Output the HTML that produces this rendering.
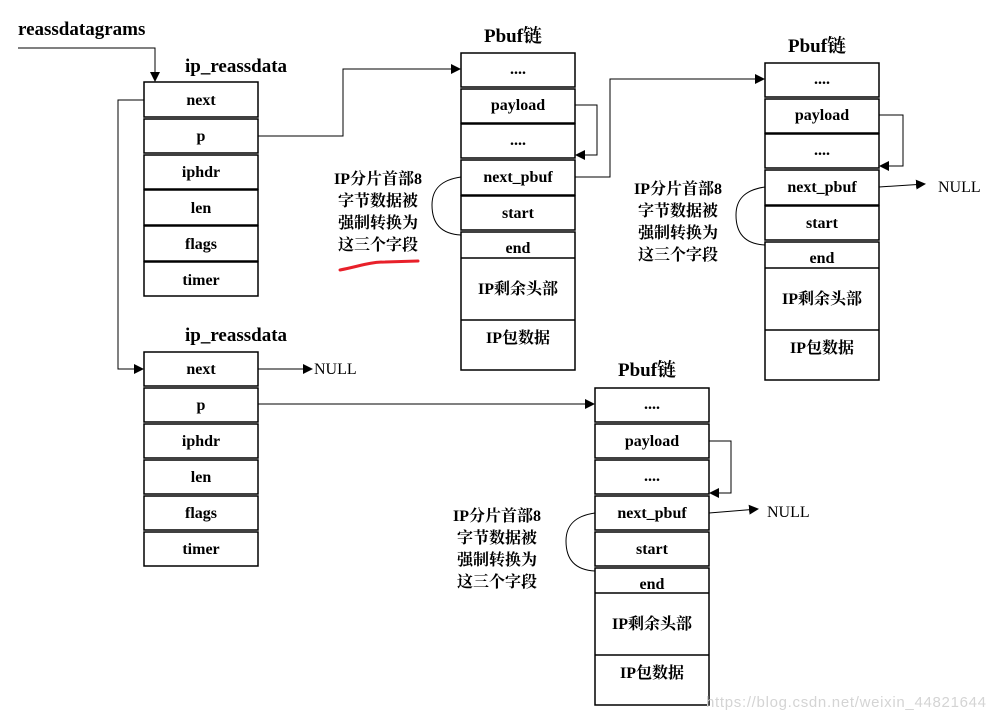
<!DOCTYPE html>
<html><head><meta charset="utf-8"><style>
html,body{margin:0;padding:0;background:#fff;width:996px;height:720px;overflow:hidden}
svg text{font-family:"Liberation Serif","Noto Serif CJK SC","Noto Sans CJK SC",serif;font-weight:bold;fill:#000}
</style></head><body>
<svg width="996" height="720" viewBox="0 0 996 720" xmlns="http://www.w3.org/2000/svg">
<defs><marker id="a" markerWidth="10" markerHeight="10" refX="9" refY="5" orient="auto" markerUnits="userSpaceOnUse"><path d="M0,0 L10,5 L0,10 z" fill="#000"/></marker></defs>
<g fill="none" stroke="#000" stroke-width="1.5">
<rect x="144" y="82" width="114" height="35"/><rect x="144" y="119" width="114" height="34"/><rect x="144" y="155" width="114" height="34"/><rect x="144" y="190" width="114" height="35"/><rect x="144" y="226" width="114" height="35"/><rect x="144" y="262" width="114" height="34"/>
<rect x="144" y="352" width="114" height="34"/><rect x="144" y="388" width="114" height="34"/><rect x="144" y="424" width="114" height="34"/><rect x="144" y="460" width="114" height="34"/><rect x="144" y="496" width="114" height="34"/><rect x="144" y="532" width="114" height="34"/>
<rect x="461" y="53" width="114" height="34"/><rect x="461" y="89" width="114" height="34"/><rect x="461" y="124" width="114" height="34"/><rect x="461" y="160" width="114" height="35"/><rect x="461" y="196" width="114" height="34"/><rect x="461" y="232" width="114" height="138"/><line x1="461" y1="258" x2="575" y2="258"/><line x1="461" y1="320" x2="575" y2="320"/>
<rect x="765" y="63" width="114" height="34"/><rect x="765" y="99" width="114" height="34"/><rect x="765" y="134" width="114" height="34"/><rect x="765" y="170" width="114" height="35"/><rect x="765" y="206" width="114" height="34"/><rect x="765" y="242" width="114" height="138"/><line x1="765" y1="268" x2="879" y2="268"/><line x1="765" y1="330" x2="879" y2="330"/>
<rect x="595" y="388" width="114" height="34"/><rect x="595" y="424" width="114" height="34"/><rect x="595" y="460" width="114" height="34"/><rect x="595" y="496" width="114" height="34"/><rect x="595" y="532" width="114" height="34"/><rect x="595" y="568" width="114" height="137"/><line x1="595" y1="593" x2="709" y2="593"/><line x1="595" y1="655" x2="709" y2="655"/>
</g>
<g fill="none" stroke="#000" stroke-width="1">
<polyline points="18,48 155,48 155,81" marker-end="url(#a)"/>
<polyline points="144,100 118,100 118,369 143,369" marker-end="url(#a)"/>
<polyline points="258,136 343,136 343,69 460,69" marker-end="url(#a)"/>
<polyline points="575,105 597,105 597,155 576,155" marker-end="url(#a)"/>
<polyline points="575,177 610,177 610,79 764,79" marker-end="url(#a)"/>
<path d="M461,177 C440,180 432,190 432,205 C432,222 440,234 461,235"/>
<polyline points="879,115 903,115 903,166 880,166" marker-end="url(#a)"/>
<polyline points="879,187 925,184" marker-end="url(#a)"/>
<path d="M765,187 C744,190 736,200 736,215 C736,232 744,244 765,245"/>
<polyline points="258,369 312,369" marker-end="url(#a)"/>
<polyline points="258,404 594,404" marker-end="url(#a)"/>
<polyline points="709,441 731,441 731,493 710,493" marker-end="url(#a)"/>
<polyline points="709,513 758,509" marker-end="url(#a)"/>
<path d="M595,513 C574,516 566,526 566,541 C566,558 574,570 595,571"/>
</g>
<path d="M340,270 C360,266 370,262 385,262 L418,261" stroke="#e8202a" stroke-width="3" fill="none" stroke-linecap="round"/>
<g font-size="19"><text x="18" y="35">reassdatagrams</text><text x="185" y="72">ip_reassdata</text><text x="185" y="341">ip_reassdata</text>
<text x="484" y="42">Pbuf链</text><text x="788" y="52">Pbuf链</text><text x="618" y="376">Pbuf链</text></g>
<g font-size="16" text-anchor="middle">
<text x="201" y="105">next</text><text x="201" y="141">p</text><text x="201" y="177">iphdr</text><text x="201" y="213">len</text><text x="201" y="249">flags</text><text x="201" y="285">timer</text>
<text x="201" y="374">next</text><text x="201" y="410">p</text><text x="201" y="446">iphdr</text><text x="201" y="482">len</text><text x="201" y="518">flags</text><text x="201" y="554">timer</text>
<text x="518" y="74">....</text><text x="518" y="110">payload</text><text x="518" y="145">....</text><text x="518" y="182">next_pbuf</text><text x="518" y="218">start</text><text x="518" y="253">end</text><text x="518" y="294">IP剩余头部</text><text x="518" y="343">IP包数据</text>
<text x="822" y="84">....</text><text x="822" y="120">payload</text><text x="822" y="155">....</text><text x="822" y="192">next_pbuf</text><text x="822" y="228">start</text><text x="822" y="263">end</text><text x="822" y="304">IP剩余头部</text><text x="822" y="353">IP包数据</text>
<text x="652" y="409">....</text><text x="652" y="446">payload</text><text x="652" y="481">....</text><text x="652" y="518">next_pbuf</text><text x="652" y="554">start</text><text x="652" y="589">end</text><text x="652" y="629">IP剩余头部</text><text x="652" y="678">IP包数据</text>
</g>
<g font-size="16" text-anchor="middle">
<text x="378" y="184">IP分片首部8</text><text x="378" y="206">字节数据被</text><text x="378" y="228">强制转换为</text><text x="378" y="250">这三个字段</text>
<text x="678" y="194">IP分片首部8</text><text x="678" y="216">字节数据被</text><text x="678" y="238">强制转换为</text><text x="678" y="260">这三个字段</text>
<text x="497" y="521">IP分片首部8</text><text x="497" y="543">字节数据被</text><text x="497" y="565">强制转换为</text><text x="497" y="587">这三个字段</text>
</g>
<g font-size="16"><text x="314" y="374" style="font-weight:normal">NULL</text><text x="938" y="192" style="font-weight:normal">NULL</text><text x="767" y="517" style="font-weight:normal">NULL</text></g>
<text x="706" y="707" font-size="15" style="font-weight:normal;fill:#d4d4d4;font-family:'Liberation Sans',sans-serif" textLength="280">https://blog.csdn.net/weixin_44821644</text>
</svg>
</body></html>
